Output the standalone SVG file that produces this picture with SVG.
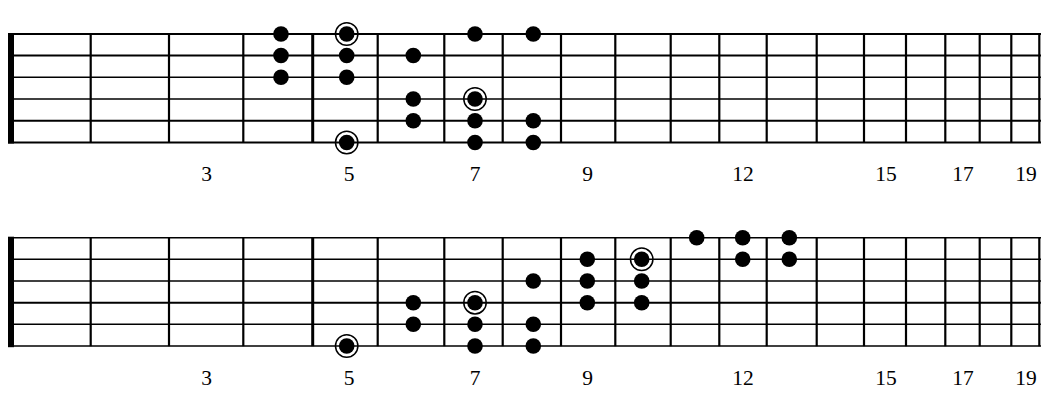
<svg xmlns="http://www.w3.org/2000/svg" width="1047" height="412" viewBox="0 0 1047 412">
<style>
.s{stroke:#000;stroke-width:2}
.t{stroke:#000;stroke-width:1.4}
.f{stroke:#000;stroke-width:2.2}
.fw{stroke:#000;stroke-width:3}
.d{fill:#000}
.r{fill:none;stroke:#000;stroke-width:1.5}
.n{font-family:"Liberation Serif",serif;font-size:21.5px;fill:#000;text-anchor:middle}
</style>
<defs>
<g id="frets">
<line class="f" x1="90.7" y1="0" x2="90.7" y2="108.5"/>
<line class="f" x1="169" y1="0" x2="169" y2="108.5"/>
<line class="f" x1="243.3" y1="0" x2="243.3" y2="108.5"/>
<line class="fw" x1="312.7" y1="0" x2="312.7" y2="108.5"/>
<line class="f" x1="377.7" y1="0" x2="377.7" y2="108.5"/>
<line class="f" x1="444.3" y1="0" x2="444.3" y2="108.5"/>
<line class="f" x1="502.7" y1="0" x2="502.7" y2="108.5"/>
<line class="f" x1="561" y1="0" x2="561" y2="108.5"/>
<line class="f" x1="615.3" y1="0" x2="615.3" y2="108.5"/>
<line class="f" x1="670.7" y1="0" x2="670.7" y2="108.5"/>
<line class="f" x1="719.3" y1="0" x2="719.3" y2="108.5"/>
<line class="f" x1="766.7" y1="0" x2="766.7" y2="108.5"/>
<line class="f" x1="816.7" y1="0" x2="816.7" y2="108.5"/>
<line class="f" x1="864" y1="0" x2="864" y2="108.5"/>
<line class="f" x1="906" y1="0" x2="906" y2="108.5"/>
<line class="f" x1="945.3" y1="0" x2="945.3" y2="108.5"/>
<line class="f" x1="979.7" y1="0" x2="979.7" y2="108.5"/>
<line class="f" x1="1011.3" y1="0" x2="1011.3" y2="108.5"/>
<line class="f" x1="1039.3" y1="0" x2="1039.3" y2="108.5"/>
<rect x="8" y="-1" width="6" height="110.5" fill="#000"/>
</g>
<g id="labels">
<text class="n" x="206.5" y="0">3</text>
<text class="n" x="349" y="0">5</text>
<text class="n" x="475" y="0">7</text>
<text class="n" x="587.5" y="0">9</text>
<text class="n" x="743" y="0">12</text>
<text class="n" x="886" y="0">15</text>
<text class="n" x="963" y="0">17</text>
<text class="n" x="1026" y="0">19</text>
</g>
</defs>

<g id="fretboard-top">
<line class="s" x1="8" y1="34" x2="1041" y2="34"/>
<line class="s" x1="8" y1="55.5" x2="1041" y2="55.5"/>
<line class="t" x1="8" y1="77.3" x2="1041" y2="77.3"/>
<line class="t" x1="8" y1="99" x2="1041" y2="99"/>
<line class="s" x1="8" y1="120.8" x2="1041" y2="120.8"/>
<line class="s" x1="8" y1="142.5" x2="1041" y2="142.5"/>
<use href="#frets" transform="translate(0,34)"/>
<use href="#labels" transform="translate(0,180.5)"/>
</g>
<g id="dots-top">
<circle class="d" cx="281" cy="34" r="7.8"/>
<circle class="d" cx="281" cy="55.5" r="7.8"/>
<circle class="d" cx="281" cy="77.3" r="7.8"/>
<circle class="r" cx="346.7" cy="34" r="11.2"/>
<circle class="d" cx="346.7" cy="34" r="7.8"/>
<circle class="d" cx="346.7" cy="55.5" r="7.8"/>
<circle class="d" cx="346.7" cy="77.3" r="7.8"/>
<circle class="r" cx="346.7" cy="142.5" r="11.2"/>
<circle class="d" cx="346.7" cy="142.5" r="7.8"/>
<circle class="d" cx="413.3" cy="55.5" r="7.8"/>
<circle class="d" cx="413.3" cy="99" r="7.8"/>
<circle class="d" cx="413.3" cy="120.8" r="7.8"/>
<circle class="d" cx="475" cy="34" r="7.8"/>
<circle class="r" cx="475" cy="99" r="11.2"/>
<circle class="d" cx="475" cy="99" r="7.8"/>
<circle class="d" cx="475" cy="120.8" r="7.8"/>
<circle class="d" cx="475" cy="142.5" r="7.8"/>
<circle class="d" cx="533.3" cy="34" r="7.8"/>
<circle class="d" cx="533.3" cy="120.8" r="7.8"/>
<circle class="d" cx="533.3" cy="142.5" r="7.8"/>
</g>

<g id="fretboard-bottom">
<line class="t" x1="8" y1="237.7" x2="1041" y2="237.7"/>
<line class="t" x1="8" y1="259.3" x2="1041" y2="259.3"/>
<line class="t" x1="8" y1="281" x2="1041" y2="281"/>
<line class="s" x1="8" y1="302.7" x2="1041" y2="302.7"/>
<line class="t" x1="8" y1="324.3" x2="1041" y2="324.3"/>
<line class="t" x1="8" y1="346" x2="1041" y2="346"/>
<use href="#frets" transform="translate(0,237.7)"/>
<use href="#labels" transform="translate(0,384.5)"/>
</g>
<g id="dots-bottom">
<circle class="r" cx="346.7" cy="346" r="11.2"/>
<circle class="d" cx="346.7" cy="346" r="7.8"/>
<circle class="d" cx="413.3" cy="302.7" r="7.8"/>
<circle class="d" cx="413.3" cy="324.3" r="7.8"/>
<circle class="r" cx="475" cy="302.7" r="11.2"/>
<circle class="d" cx="475" cy="302.7" r="7.8"/>
<circle class="d" cx="475" cy="324.3" r="7.8"/>
<circle class="d" cx="475" cy="346" r="7.8"/>
<circle class="d" cx="533.3" cy="281" r="7.8"/>
<circle class="d" cx="533.3" cy="324.3" r="7.8"/>
<circle class="d" cx="533.3" cy="346" r="7.8"/>
<circle class="d" cx="587.3" cy="259.3" r="7.8"/>
<circle class="d" cx="587.3" cy="281" r="7.8"/>
<circle class="d" cx="587.3" cy="302.7" r="7.8"/>
<circle class="r" cx="641.7" cy="259.3" r="11.2"/>
<circle class="d" cx="641.7" cy="259.3" r="7.8"/>
<circle class="d" cx="641.7" cy="281" r="7.8"/>
<circle class="d" cx="641.7" cy="302.7" r="7.8"/>
<circle class="d" cx="696.7" cy="237.7" r="7.8"/>
<circle class="d" cx="742.7" cy="237.7" r="7.8"/>
<circle class="d" cx="742.7" cy="259.3" r="7.8"/>
<circle class="d" cx="789.3" cy="237.7" r="7.8"/>
<circle class="d" cx="789.3" cy="259.3" r="7.8"/>
</g>
</svg>
